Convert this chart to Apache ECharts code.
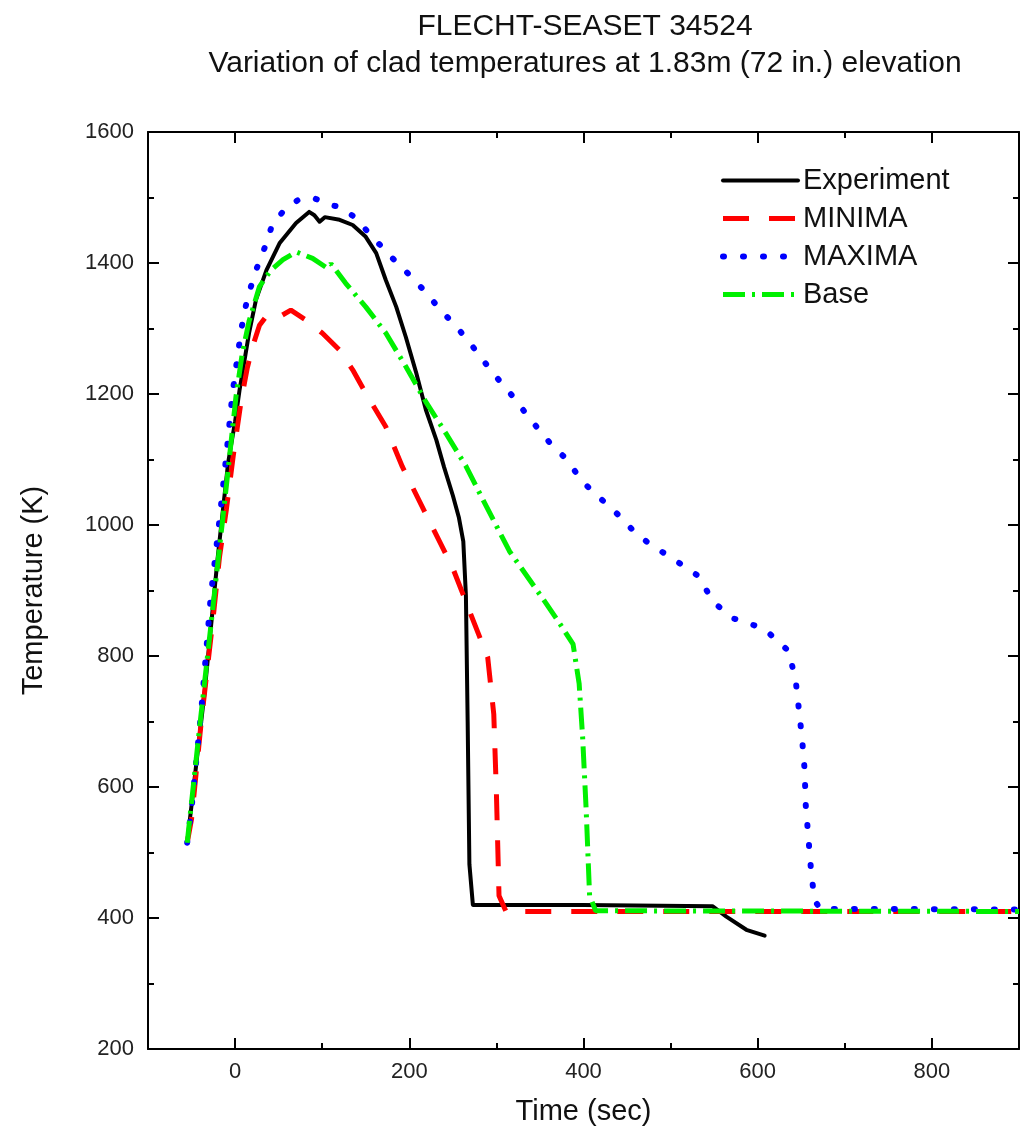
<!DOCTYPE html>
<html>
<head>
<meta charset="utf-8">
<script src="https://cdn.jsdelivr.net/npm/echarts@6/dist/echarts.min.js"></script>
<style>
html,body{margin:0;padding:0;background:#fff;}
#chart{width:1023px;height:1139px;}
</style>
</head>
<body>
<div id="chart"></div>
<script>
// ---- data ----
const expTime = [-55, -35, -20, -8, 0, 5, 16, 24, 36, 51, 70, 85, 91, 97, 103, 120, 135, 150, 162, 173, 185, 196, 208, 219, 231, 240, 250, 257, 262, 265, 267, 269, 273, 280, 400, 548, 564, 587, 608];
const expTemp = [515, 745, 950, 1095, 1158, 1205, 1293, 1344, 1389, 1430, 1461, 1478, 1473, 1463, 1470, 1466, 1458, 1440, 1415, 1374, 1333, 1287, 1232, 1176, 1130, 1088, 1045, 1011, 975, 892, 700, 482, 420, 420, 420, 418, 402, 382, 373];

const minTime = [-55, -50, -39, -25, -18, -10, -2, 7, 14, 20, 28, 37, 51, 64, 81, 100, 120, 135, 150, 173, 192, 223, 250, 269, 290, 297, 300, 303, 311, 900];
const minTemp = [515, 551, 698, 861, 950, 1024, 1107, 1190, 1240, 1272, 1305, 1321, 1318, 1328, 1313, 1293, 1267, 1237, 1201, 1150, 1089, 1006, 934, 869, 798, 711, 591, 434, 410, 410];

const maxTime = [-55, -50, -39, -28, -18, -10, -3, 7, 14, 24, 35, 43, 58, 72, 89, 108, 122, 139, 154, 181, 200, 217, 236, 254, 273, 296, 319, 338, 361, 380, 399, 414, 430, 445, 458, 476, 502, 531, 550, 573, 607, 636, 644, 647, 651, 654, 655, 658, 661, 665, 672, 690, 900];
const maxTemp = [515, 568, 714, 890, 1007, 1107, 1201, 1298, 1346, 1389, 1427, 1460, 1483, 1496, 1500, 1489, 1485, 1468, 1445, 1407, 1382, 1358, 1328, 1303, 1272, 1232, 1196, 1163, 1126, 1101, 1066, 1047, 1028, 1009, 990, 971, 949, 923, 881, 857, 842, 807, 758, 722, 673, 624, 575, 526, 477, 428, 413, 414, 413];

const baseTime = [-55, -40, -25, -10, 1, 8, 16, 28, 41, 55, 70, 89, 106, 110, 127, 150, 173, 196, 219, 242, 265, 284, 315, 352, 370, 388, 395, 399, 403, 407, 414, 900];
const baseTemp = [515, 700, 880, 1060, 1196, 1260, 1311, 1364, 1389, 1405, 1417, 1407, 1392, 1399, 1369, 1333, 1293, 1242, 1188, 1140, 1090, 1040, 960, 890, 855, 818, 758, 676, 567, 434, 411, 410];

const seriesNames = ['Experiment', 'MINIMA', 'MAXIMA', 'Base'];
const xMajorTicks = [0, 200, 400, 600, 800];
const titleLines = ['FLECHT-SEASET 34524', 'Variation of clad temperatures at 1.83m (72 in.) elevation'];
const xAxisTitle = 'Time (sec)';
const yAxisTitle = 'Temperature (K)';

function zip(a, b) { return a.map((x, i) => [x, b[i]]); }

const FONT = '"Liberation Sans", Arial, sans-serif';
const AXLINE = { show: true, onZero: false, lineStyle: { color: '#000', width: 2 } };
const NOLINE = { show: false, onZero: false };

const chart = echarts.init(document.getElementById('chart'), null, { renderer: 'canvas' });

function xAxisBase(pos) {
  return {
    type: 'value', position: pos, min: -100, max: 900,
    splitLine: { show: false }
  };
}

const option = {
  animation: false,
  backgroundColor: '#ffffff',
  title: {
    text: titleLines.join('\n'),
    left: 580, top: 3, textAlign: 'center',
    textStyle: { fontFamily: FONT, fontSize: 30, fontWeight: 'normal', color: '#111', lineHeight: 37 }
  },
  grid: { left: 148, right: 4, top: 132, bottom: 90, containLabel: false },
  legend: {
    orient: 'vertical', left: 720, top: 166, padding: 0,
    itemWidth: 75, itemHeight: 14, itemGap: 9,
    data: seriesNames,
    itemStyle: { opacity: 0 },
    lineStyle: { width: 'inherit' },
    textStyle: { fontFamily: FONT, fontSize: 29, color: '#111', lineHeight: 29 }
  },
  xAxis: [
    Object.assign(xAxisBase('bottom'), {
      interval: 100,
      axisLine: AXLINE,
      axisTick: { show: true, inside: true, length: 6, lineStyle: { color: '#000', width: 2 } },
      axisLabel: {
        show: true, margin: 12, fontFamily: FONT, fontSize: 22, color: '#222',
        formatter: v => (v % 200 === 0 ? String(v) : '')
      },
      name: xAxisTitle, nameLocation: 'middle', nameGap: 48,
      nameTextStyle: { fontFamily: FONT, fontSize: 29, color: '#111' }
    }),
    Object.assign(xAxisBase('bottom'), {
      axisLine: NOLINE,
      axisTick: { show: true, inside: true, length: 11, customValues: xMajorTicks, lineStyle: { color: '#000', width: 2 } },
      axisLabel: { show: false }
    }),
    Object.assign(xAxisBase('top'), {
      interval: 100,
      axisLine: AXLINE,
      axisTick: { show: true, inside: true, length: 6, lineStyle: { color: '#000', width: 2 } },
      axisLabel: { show: false }
    }),
    Object.assign(xAxisBase('top'), {
      axisLine: NOLINE,
      axisTick: { show: true, inside: true, length: 11, customValues: xMajorTicks, lineStyle: { color: '#000', width: 2 } },
      axisLabel: { show: false }
    })
  ],
  yAxis: [
    {
      type: 'value', position: 'left', min: 200, max: 1600, interval: 200,
      splitLine: { show: false },
      axisLine: AXLINE,
      axisTick: { show: true, inside: true, length: 11, lineStyle: { color: '#000', width: 2 } },
      minorTick: { show: true, splitNumber: 2, length: 6, lineStyle: { color: '#000', width: 2 } },
      axisLabel: { show: true, margin: 14, fontFamily: FONT, fontSize: 22, color: '#222', formatter: v => String(v) },
      name: yAxisTitle, nameLocation: 'middle', nameGap: 100, nameRotate: 90,
      nameTextStyle: { fontFamily: FONT, fontSize: 29, color: '#111' }
    },
    {
      type: 'value', position: 'right', min: 200, max: 1600, interval: 200,
      splitLine: { show: false },
      axisLine: AXLINE,
      axisTick: { show: true, inside: true, length: 11, lineStyle: { color: '#000', width: 2 } },
      minorTick: { show: true, splitNumber: 2, length: 6, lineStyle: { color: '#000', width: 2 } },
      axisLabel: { show: false }
    }
  ],
  series: [
    {
      name: seriesNames[0], type: 'line', data: zip(expTime, expTemp),
      showSymbol: false, symbol: 'none', color: '#000000',
      lineStyle: { color: '#000000', width: 4, type: 'solid', join: 'round', cap: 'round' }
    },
    {
      name: seriesNames[1], type: 'line', data: zip(minTime, minTemp),
      showSymbol: false, symbol: 'none', color: '#ff0000',
      lineStyle: { color: '#ff0000', width: 5, type: [26, 20] }
    },
    {
      name: seriesNames[2], type: 'line', data: zip(maxTime, maxTemp),
      showSymbol: false, symbol: 'none', color: '#0000ff',
      lineStyle: { color: '#0000ff', width: 6, type: [1, 19], cap: 'round' }
    },
    {
      name: seriesNames[3], type: 'line', data: zip(baseTime, baseTemp),
      showSymbol: false, symbol: 'none', color: '#00f000',
      lineStyle: { color: '#00f000', width: 5, type: [22, 7, 3, 7] }
    }
  ]
};
chart.setOption(option);
</script>
</body>
</html>
